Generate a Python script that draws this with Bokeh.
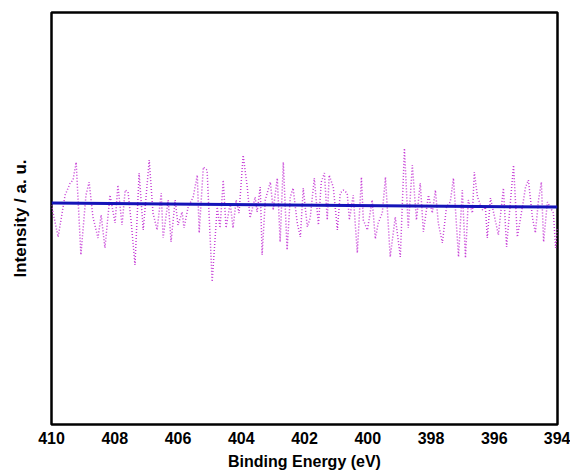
from bokeh.plotting import figure
from bokeh.models import Range1d, FixedTicker
from bokeh.embed import file_html
from bokeh.resources import INLINE

# Binding energy (eV) and measured intensity (a.u.) of the N 1s region
energy = [410.00, 409.79, 409.57, 409.41, 409.32, 409.22, 409.07, 408.91, 408.81, 408.69,
          408.53, 408.43, 408.31, 408.15, 407.99, 407.90, 407.77, 407.67, 407.58, 407.48,
          407.36, 407.23, 407.10, 406.91, 406.79, 406.66, 406.53, 406.47, 406.31, 406.22,
          406.09, 406.00, 405.87, 405.81, 405.68, 405.52, 405.39, 405.33, 405.20, 405.08,
          404.92, 404.76, 404.67, 404.57, 404.48, 404.35, 404.26, 404.16, 404.07, 403.94,
          403.81, 403.72, 403.56, 403.50, 403.40, 403.34, 403.24, 403.08, 402.99, 402.86,
          402.77, 402.67, 402.55, 402.45, 402.36, 402.23, 402.13, 402.04, 401.91, 401.82,
          401.69, 401.56, 401.47, 401.37, 401.28, 401.22, 401.09, 400.96, 400.87, 400.77,
          400.65, 400.58, 400.46, 400.33, 400.20, 400.14, 400.01, 399.86, 399.76, 399.67,
          399.54, 399.44, 399.29, 399.13, 398.97, 398.84, 398.72, 398.59, 398.46, 398.34,
          398.24, 398.08, 397.96, 397.86, 397.77, 397.64, 397.51, 397.39, 397.29, 397.13,
          397.01, 396.91, 396.82, 396.69, 396.63, 396.53, 396.37, 396.28, 396.22, 396.12,
          395.99, 395.87, 395.71, 395.61, 395.39, 395.27, 395.11, 395.01, 394.92, 394.79,
          394.70, 394.60, 394.51, 394.44, 394.32, 394.13, 394.06, 394.00]
intensity = [2200, 1880, 2300, 2420, 2450, 2630, 1700, 2300, 2430, 2080,
             1870, 2100, 1770, 2300, 2020, 2400, 2000, 2350, 2330, 2030,
             1600, 2520, 1950, 2650, 2120, 1950, 2320, 1870, 2250, 1830,
             2250, 2000, 2130, 1970, 2180, 2280, 2500, 1920, 2580, 2550,
             1430, 2180, 1970, 2450, 1970, 2220, 1970, 2250, 2120, 2700,
             2380, 2070, 2280, 2130, 2380, 1700, 2250, 2430, 2150, 2470,
             1830, 2630, 1750, 2280, 2370, 2020, 1880, 2370, 1980, 2070,
             2470, 2000, 2430, 2520, 2050, 2500, 2380, 1950, 2320, 2350,
             2320, 2050, 2300, 1720, 2480, 2050, 1950, 2250, 1860, 2020,
             2120, 2480, 1680, 2080, 1680, 2770, 1970, 2600, 2050, 2420,
             1930, 2300, 2120, 2350, 2020, 1820, 2180, 2230, 2470, 1680,
             2350, 1670, 2250, 2120, 2530, 2280, 2150, 2180, 1870, 2270,
             2080, 1900, 2370, 1780, 2600, 1880, 2180, 2380, 2450, 2070,
             1920, 2250, 2430, 1830, 2230, 2120, 1770, 1970]

# Background fit line
fit_energy = [410.0, 394.0]
fit_intensity = [2220, 2180]

x_ticks = [410, 408, 406, 404, 402, 400, 398, 396, 394]

p = figure(width=570, height=472, output_backend="svg", toolbar_location=None,
           x_range=Range1d(410, 394), y_range=Range1d(0, 4130),
           min_border_left=51, min_border_right=13, min_border_top=12, min_border_bottom=47)

p.line(energy, intensity, line_color="#c63fd6", line_width=1.5, line_dash="1 2")
p.line(fit_energy, fit_intensity, line_color="#1414b8", line_width=3)

p.xgrid.visible = False
p.ygrid.visible = False
p.outline_line_color = "black"
p.outline_line_width = 2.5
p.background_fill_color = "white"
p.border_fill_color = "white"

font = "Liberation Sans"
p.xaxis.ticker = FixedTicker(ticks=x_ticks)
p.xaxis.axis_label = "Binding Energy (eV)"
p.xaxis.axis_line_color = None
p.xaxis.major_tick_line_color = None
p.xaxis.minor_tick_line_color = None
p.xaxis.major_label_text_font = font
p.xaxis.major_label_text_font_style = "bold"
p.xaxis.major_label_text_font_size = "16px"
p.xaxis.major_label_text_color = "black"
p.xaxis.major_label_standoff = 1
p.xaxis.axis_label_text_font = font
p.xaxis.axis_label_text_font_style = "bold"
p.xaxis.axis_label_text_font_size = "16px"
p.xaxis.axis_label_text_color = "black"
p.xaxis.axis_label_standoff = 6

p.yaxis.ticker = FixedTicker(ticks=[])
p.yaxis.axis_label = "Intensity / a. u."
p.yaxis.axis_line_color = None
p.yaxis.major_tick_line_color = None
p.yaxis.minor_tick_line_color = None
p.yaxis.major_label_text_font_size = "0px"
p.yaxis.axis_label_text_font = font
p.yaxis.axis_label_text_font_style = "bold"
p.yaxis.axis_label_text_font_size = "17px"
p.yaxis.axis_label_text_color = "black"
p.yaxis.axis_label_standoff = 22

open("out.html", "w").write(file_html(p, INLINE))
